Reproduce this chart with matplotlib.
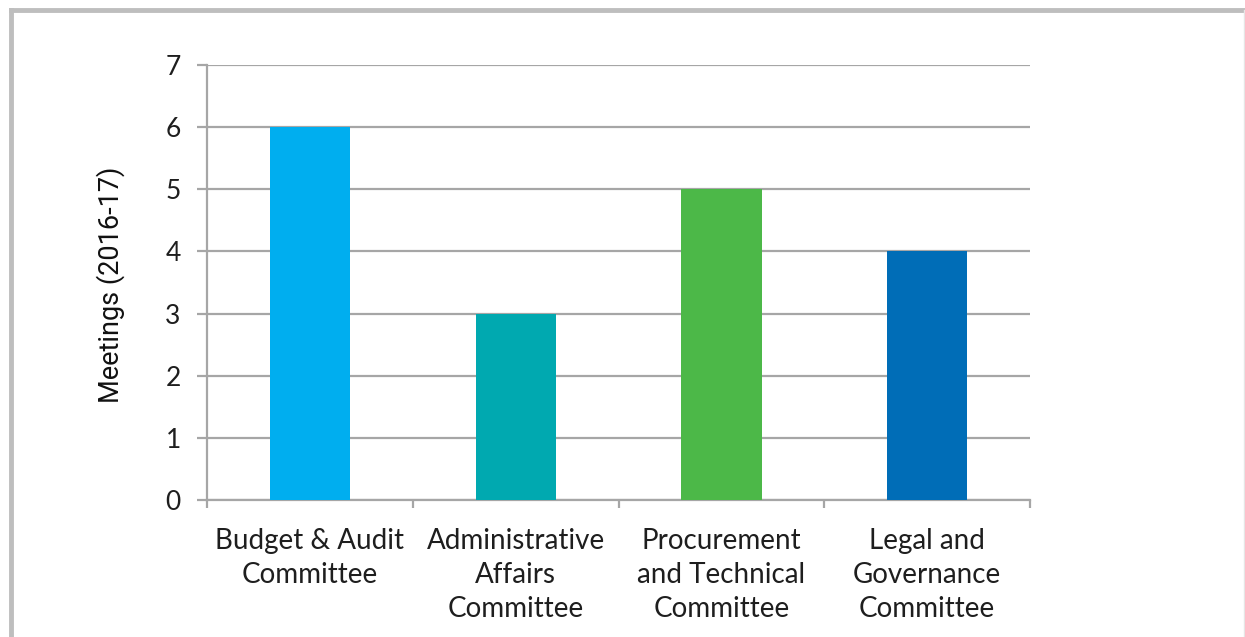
import matplotlib.pyplot as plt
from matplotlib.lines import Line2D

committees = ['Budget & Audit\nCommittee', 'Administrative\nAffairs\nCommittee',
              'Procurement\nand Technical\nCommittee', 'Legal and\nGovernance\nCommittee']
meetings = [6, 3, 5, 4]
bar_colors = ['#00AEEF', '#00A9B0', '#4CB848', '#006DB7']
y_ticks = [0, 1, 2, 3, 4, 5, 6, 7]

fig = plt.figure(figsize=(12.45, 6.37), dpi=100)
ax = fig.add_axes([0.1663, 0.2151, 0.661, 0.683])

x = range(len(meetings))
ax.bar(x, meetings, width=0.39, color=bar_colors, zorder=3)

ax.set_xlim(-0.5, len(meetings) - 0.5)
ax.set_ylim(0, 7)
ax.set_yticks(y_ticks)
ax.yaxis.grid(True, color='#A6A6A6', linewidth=1.6, zorder=0)
ax.set_axisbelow(True)

# category labels in the middle, tick marks on the borders
ax.set_xticks(list(x))
ax.set_xticklabels(committees, fontsize=20, family='Lato', color='#1e1e1e', linespacing=1.38)
ax.tick_params(axis='x', which='major', length=0, pad=20)
ax.set_xticks([i - 0.5 for i in range(len(meetings) + 1)], minor=True)
ax.tick_params(axis='x', which='minor', length=6, width=1.6, color='#A6A6A6')
ax.tick_params(axis='y', length=7, width=1.6, color='#A6A6A6', pad=12)
for lab in ax.get_yticklabels():
    lab.set_fontsize(19)
    lab.set_family('Lato')
    lab.set_color('#1e1e1e')

for s in ['top', 'right']:
    ax.spines[s].set_visible(False)
for s in ['left', 'bottom']:
    ax.spines[s].set_color('#A6A6A6')
    ax.spines[s].set_linewidth(1.6)

ax.set_ylabel('Meetings (2016-17)', fontsize=19.5, family='Roboto', color='#111111')
ax.yaxis.set_label_coords(-0.0996, 0.494)

# grey frame around the picture
fig.add_artist(Line2D([0.0088, 1.0], [0.984, 0.984], color='#BEBEBE', linewidth=3.5, transform=fig.transFigure))
fig.add_artist(Line2D([0.0088, 0.0088], [0.0, 0.984], color='#BEBEBE', linewidth=3.5, transform=fig.transFigure))
fig.add_artist(Line2D([0.9990, 0.9990], [0.0, 0.984], color='#E6E6E6', linewidth=1.0, transform=fig.transFigure))

fig.savefig('out.png', dpi=100)
